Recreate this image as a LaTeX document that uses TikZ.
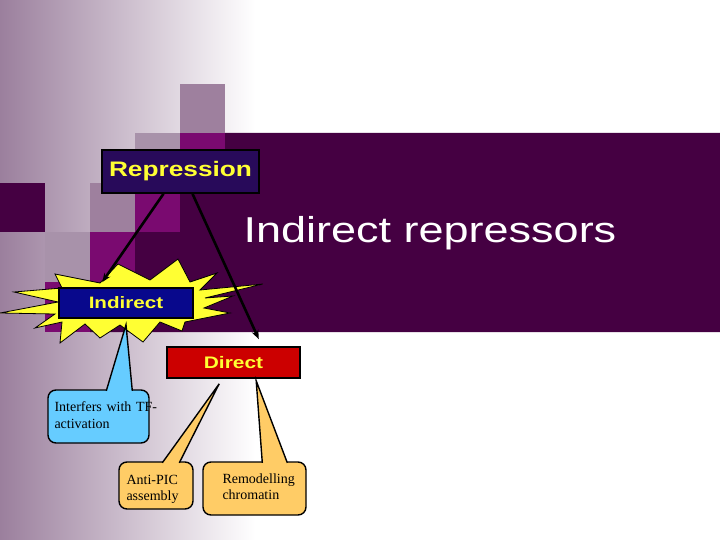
\documentclass[tikz,border=0pt]{standalone}
\usepackage{fontspec}
\setmainfont{Liberation Serif}
\newfontfamily\widesans[FakeStretch=1.25]{Liberation Sans}
\usetikzlibrary{arrows.meta}
\definecolor{fadegrey}{RGB}{155,127,157}
\definecolor{pxgrey}{RGB}{158,128,158}
\definecolor{pxgreylt}{RGB}{168,146,170}
\definecolor{pxmag}{RGB}{122,10,112}
\definecolor{pxdark}{RGB}{69,0,66}
\definecolor{tagyellow}{RGB}{255,255,51}
\definecolor{repblock}{RGB}{40,10,90}
\definecolor{indblock}{RGB}{8,8,140}
\definecolor{dirblock}{RGB}{204,0,0}
\definecolor{tfblock}{RGB}{102,204,255}
\definecolor{mechblock}{RGB}{255,204,102}

\tikzset{
	tag/.style={draw=black, line width=1.6pt, inner sep=0pt, text=tagyellow},
	link/.style={line width=2.6pt, -{Stealth[length=9pt,width=7pt]}},
	callbox/.style={draw=black, line width=1.4pt, rounded corners=8pt, inner sep=0pt},
	calltext/.style={inner sep=0pt, anchor=base west, text width=120pt, align=left,
		font=\fontsize{14}{16.5}\selectfont},
}

\begin{document}
\begin{tikzpicture}[x=1pt, y=-1pt]
		\def\cw{45}  % cell width
		
		% --- background ---
		\useasboundingbox (0,0) rectangle (720,540);
		\fill[white] (0,0) rectangle (720,540);
		\shade[left color=fadegrey, right color=white] (0,0) rectangle (255,540);
		
		% --- pixel squares ---
		\fill[pxgrey] (4*\cw,84) rectangle (5*\cw,133);
		\fill[pxgrey] (2*\cw,183) rectangle (3*\cw,232);
		\fill[pxgreylt] (3*\cw,133) rectangle (4*\cw,183);
		\fill[pxgreylt] (\cw,232) rectangle (2*\cw,282);
		
		\fill[pxmag] (4*\cw,133) rectangle (5*\cw,183);
		\fill[pxmag] (3*\cw,183) rectangle (4*\cw,232);
		\fill[pxmag] (2*\cw,232) rectangle (3*\cw,282);
		\fill[pxmag] (\cw,282) rectangle (2*\cw,332);
		
		\fill[pxdark] (0,183) rectangle (\cw,232);
		\fill[pxdark] (5*\cw,133) -- (720,133) -- (720,332) -- (2*\cw,332) -- (2*\cw,282)
			-- (3*\cw,282) -- (3*\cw,232) -- (4*\cw,232) -- (4*\cw,183) -- (5*\cw,183) -- cycle;
		
		% --- title ---
		\node[text=white, anchor=base, inner sep=0pt,
			font=\widesans\fontsize{36}{40}\selectfont] (title) at (430,243) {Indirect repressors};
		
		% --- burst behind Indirect ---
		\draw[fill=tagyellow, line width=0.8pt, line join=miter]
			(0,313) -- (58,302) -- (14,292) -- (62,288) -- (55,274) -- (100,283)
			-- (118,264) -- (150,280) -- (178,259) -- (190,282) -- (217,273) -- (200,290)
			-- (263,284) -- (205,298) -- (233,296) -- (204,308) -- (230,313) -- (185,322)
			-- (182,331) -- (160,322) -- (143,342) -- (120,325) -- (100,338) -- (85,324)
			-- (60,343) -- (62,322) -- (35,328) -- (55,314) -- cycle;
		
		% --- tags ---
		\node[tag, fill=repblock, minimum width=157pt, minimum height=43pt,
			font=\widesans\bfseries\fontsize{21}{24}\selectfont] (rep) at (180.5,171.5) {Repression};
		\node[tag, fill=indblock, minimum width=134pt, minimum height=30pt,
			font=\widesans\bfseries\fontsize{16.5}{20}\selectfont] (ind) at (126,303) {Indirect};
		\node[tag, fill=dirblock, minimum width=133pt, minimum height=31pt,
			font=\widesans\bfseries\fontsize{16.7}{20}\selectfont] (dir) at (233.5,362.5) {Direct};
		
		% --- arrows ---
		\coordinate (indtip) at ([xshift=44pt, yshift=5pt]ind.north west);
		\coordinate (dirtip) at ([xshift=-42pt, yshift=7pt]dir.north east);
		\draw[link] ([xshift=-17pt]rep.south) -- (indtip);
		\draw[link] ([xshift=12pt]rep.south) -- (dirtip);
		
		% --- callouts ---
		\node[callbox, fill=tfblock, minimum width=101pt, minimum height=53pt] (tfbox) at (98.5,416.5) {};
		\node[callbox, fill=mechblock, minimum width=74pt, minimum height=47pt] (picbox) at (156,485.5) {};
		\node[callbox, fill=mechblock, minimum width=103pt, minimum height=53pt] (chrbox) at (254.5,488.5) {};
		
		\coordinate (tftip) at ([yshift=-6pt]ind.south);
		\coordinate (pictip) at ([xshift=53pt, yshift=-5pt]dir.south west);
		\coordinate (chrtip) at ([xshift=90pt, yshift=-2pt]dir.south west);
		
		\coordinate (tfa) at ([xshift=59pt, yshift=-1.5pt]tfbox.north west);
		\coordinate (tfb) at ([xshift=85pt, yshift=-1.5pt]tfbox.north west);
		\coordinate (pica) at ([xshift=44pt, yshift=-1.5pt]picbox.north west);
		\coordinate (picb) at ([xshift=61pt, yshift=-1.5pt]picbox.north west);
		\coordinate (chra) at ([xshift=60pt, yshift=-1.5pt]chrbox.north west);
		\coordinate (chrb) at ([xshift=85pt, yshift=-1.5pt]chrbox.north west);
		
		\fill[tfblock] (tfa) -- (tftip) -- (tfb) -- cycle;
		\draw[line width=1.4pt] (tfa) -- (tftip) -- (tfb);
		\fill[mechblock] (pica) -- (pictip) -- (picb) -- cycle;
		\draw[line width=1.4pt] (pica) -- (pictip) -- (picb);
		\fill[mechblock] (chra) -- (chrtip) -- (chrb) -- cycle;
		\draw[line width=1.4pt] (chra) -- (chrtip) -- (chrb);
		
		% --- callout texts ---
		\node[calltext] (tftext) at ([xshift=7pt, yshift=-22.5pt]tfbox.north west)
			{Interfers with TF-\\activation};
		\node[calltext] (pictext) at ([xshift=8pt, yshift=-23pt]picbox.north west)
			{Anti-PIC\\assembly};
		\node[calltext] (chrtext) at ([xshift=20pt, yshift=-22pt]chrbox.north west)
			{Remodelling\\chromatin};
		
	\end{tikzpicture}
\end{document}
